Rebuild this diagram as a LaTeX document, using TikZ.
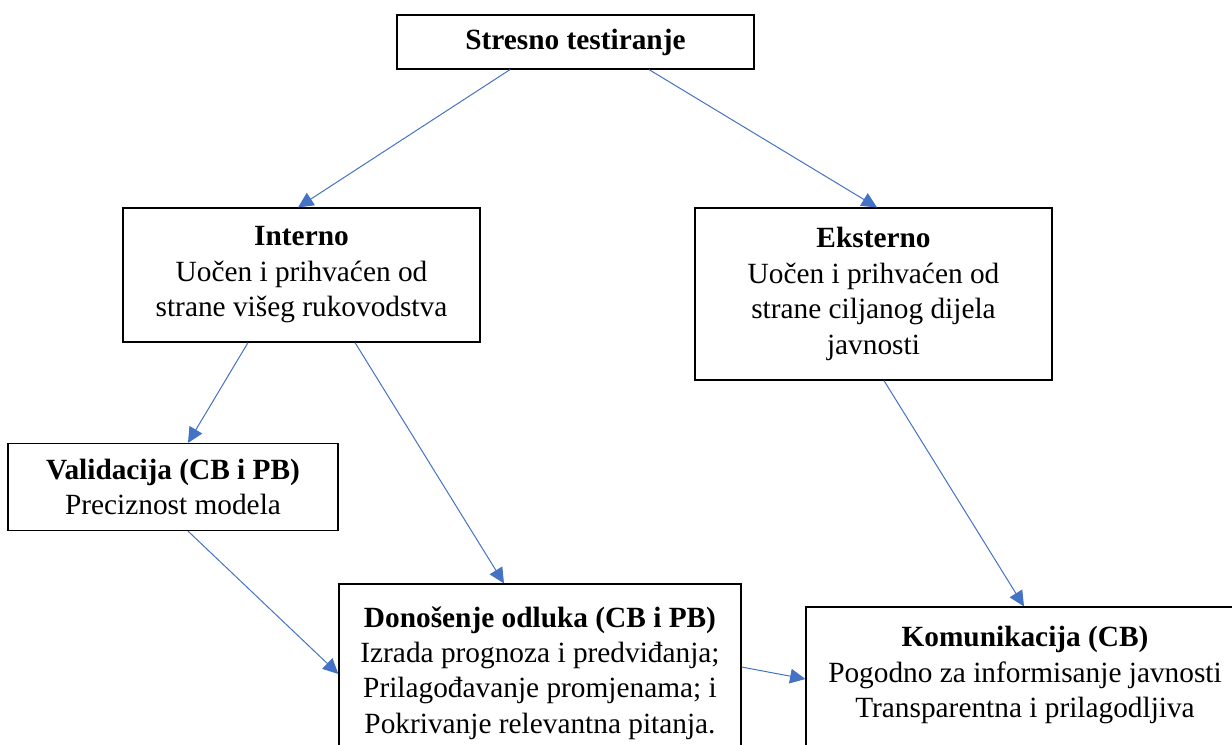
\documentclass[tikz,border=0pt]{standalone}
\usepackage{fontspec}
\setmainfont{Liberation Serif}
\usetikzlibrary{arrows.meta,calc}
\definecolor{arrowblue}{HTML}{4472C4}
\begin{document}
\begin{tikzpicture}[x=0.75pt,y=-0.75pt,
  txt/.style={font={\fontsize{22}{26.6}\selectfont}, align=center, inner sep=0pt},
  box/.style={draw=black, line width=0.9pt, fill=white, inner sep=0pt, align=center,
              font={\fontsize{22}{26.6}\selectfont}},
  link/.style={draw=arrowblue, line width=0.75pt, -{Triangle[length=11.5pt,width=11pt]}}]
\useasboundingbox (0,0) rectangle (1232,744);
\clip (0,0) rectangle (1232,744);

% boxes
\node[box, minimum width=357*0.75pt, minimum height=54*0.75pt] (top) at (575.5,42)
  {\textbf{Stresno testiranje}};
\node[box, minimum width=357*0.75pt, minimum height=134*0.75pt] (int) at (301.5,275)
  {\textbf{Interno}\\Uočen i prihvaćen od\\strane višeg rukovodstva};
\node[box, minimum width=357*0.75pt, minimum height=172*0.75pt] (ext) at (873.5,294)
  {\textbf{Eksterno}\\Uočen i prihvaćen od\\strane ciljanog dijela\\javnosti};
\node[box, minimum width=330*0.75pt, minimum height=87*0.75pt] (val) at (173,487)
  {\textbf{Validacija (CB i PB)}\\Preciznost modela};
\node[box, minimum width=402*0.75pt, minimum height=176*0.75pt] (don) at (540,672) {};
\node[txt] (donT) at (540,673)
  {\textbf{Donošenje odluka (CB i PB)}\\Izrada prognoza i predviđanja;\\Prilagođavanje promjenama; i\\Pokrivanje relevantna pitanja.};
\node[box, minimum width=438*0.75pt, minimum height=153*0.75pt] (kom) at (1025,683.5) {};
\node[txt] (komT) at (1025,675)
  {\textbf{Komunikacija (CB)}\\Pogodno za informisanje javnosti\\Transparentna i prilagodljiva};

% connectors
\draw[link] ($(top.south)+(-65.5,0)$) -- ($(int.north)+(-3.5,0)$);
\draw[link] ($(top.south)+(73.5,0)$) -- ($(ext.north)+(3.5,0)$);
\draw[link] ($(int.south)+(-53.5,0)$) -- ($(val.north)+(15,0)$);
\draw[link] ($(int.south)+(53.5,0)$) -- ($(don.north)+(-36,0)$);
\draw[link] ($(ext.south)+(10.5,0)$) -- ($(kom.north)+(-1,0)$);
\draw[link] ($(val.south)+(15,0)$) -- ($(don.west)+(0,2)$);
\draw[link] ($(don.east)+(0,-5)$) -- ($(kom.west)+(0,-4.5)$);
\end{tikzpicture}
\end{document}
